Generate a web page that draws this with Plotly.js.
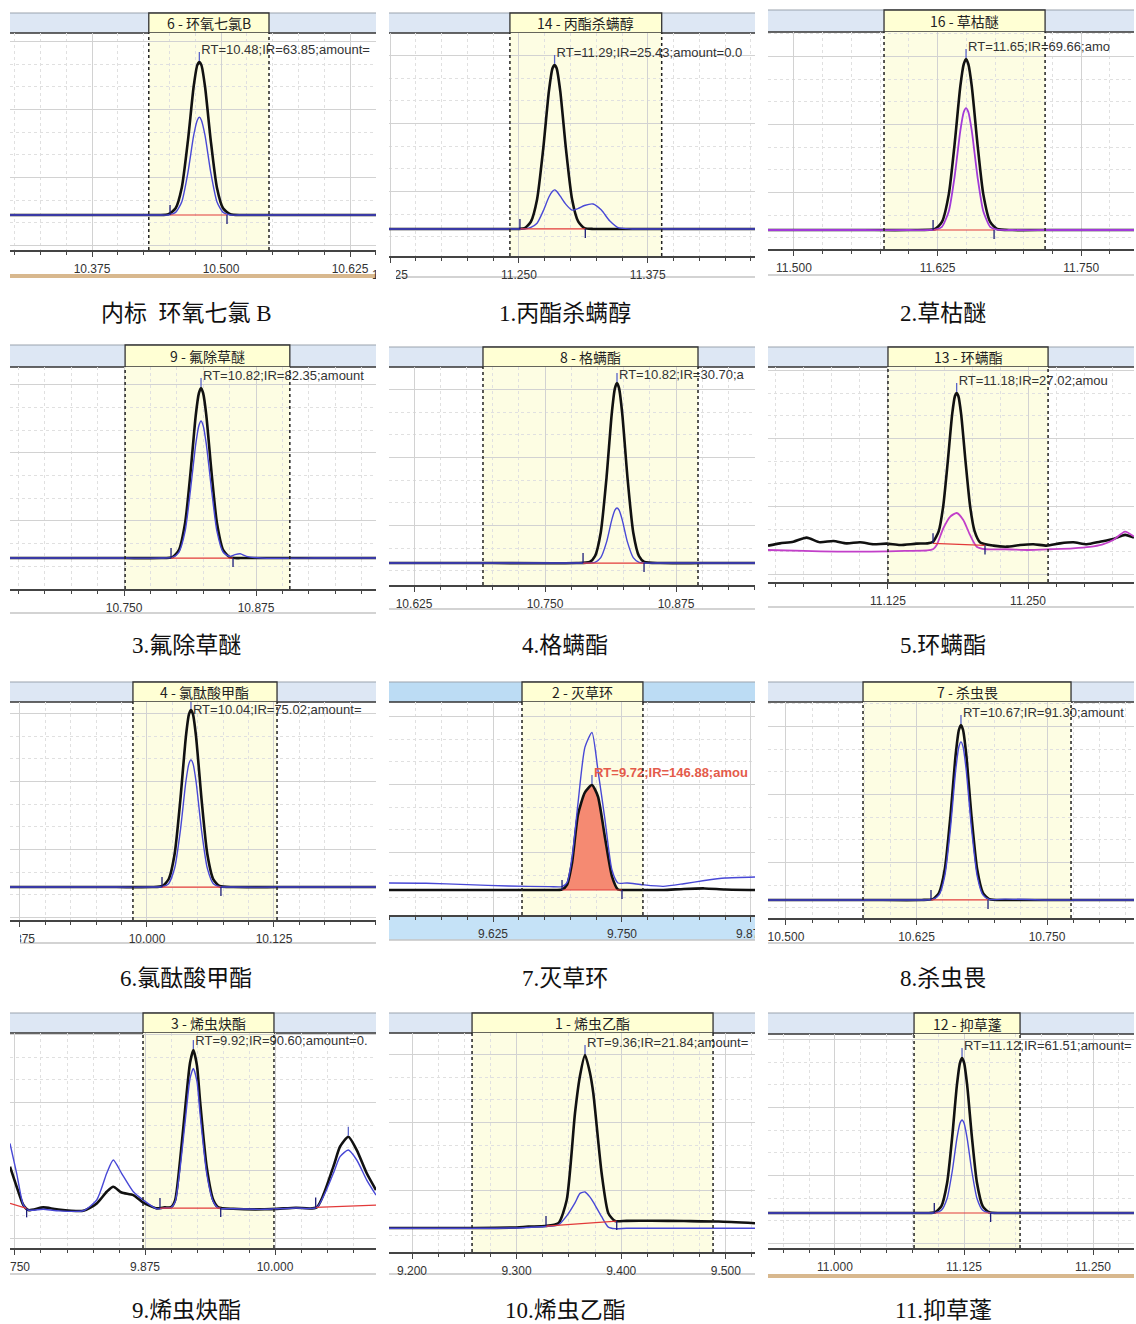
<!DOCTYPE html>
<html>
<head>
<meta charset="utf-8">
<script src="https://cdn.plot.ly/plotly-3.0.1.min.js"></script>
<style>
html,body{margin:0;padding:0;background:#ffffff;}
#chart{width:1136px;height:1324px;}
</style>
</head>
<body>
<div id="chart"></div>
<script>
// ================= DATA =================
const compoundLabels = ['6 - 环氧七氯B','14 - 丙酯杀螨醇','16 - 草枯醚','9 - 氟除草醚','8 - 格螨酯','13 - 环螨酯','4 - 氯酞酸甲酯','2 - 灭草环','7 - 杀虫畏','3 - 烯虫炔酯','1 - 烯虫乙酯','12 - 抑草蓬'];
const captions = ['内标\u00a0\u00a0环氧七氯 B','1.丙酯杀螨醇','2.草枯醚','3.氟除草醚','4.格螨酯','5.环螨酯','6.氯酞酸甲酯','7.灭草环','8.杀虫畏','9.烯虫炔酯','10.烯虫乙酯','11.抑草蓬'];
const rtLabels = ['RT=10.48;IR=63.85;amount=','RT=11.29;IR=25.43;amount=0.0','RT=11.65;IR=69.66;amo','RT=10.82;IR=82.35;amount','RT=10.82;IR=30.70;a','RT=11.18;IR=27.02;amou','RT=10.04;IR=75.02;amount=','RT=9.72;IR=146.88;amou','RT=10.67;IR=91.30;amount','RT=9.92;IR=90.60;amount=0.','RT=9.36;IR=21.84;amount=','RT=11.12;IR=61.51;amount='];

// integration window (dashed lines) in minutes
const windowStart = [10.430, 11.2413, 11.5784, 10.751, 10.6908, 11.125, 9.9862, 9.6531, 10.5738, 9.8731, 9.2574, 11.0766];
const windowEnd   = [10.5465, 11.3885, 11.7186, 10.907, 10.896, 11.2679, 10.128, 9.7703, 10.773, 9.999, 9.4878, 11.1793];
// peak start / end / apex markers
const peakStart    = [10.4506, 11.251, 11.6211, 10.7945, 10.7863, 11.1652, 10.0148, 9.6919, 10.6389, 9.8894, 9.3281, 11.0962];
const peakStartVal = [0, 0, 0, 0, 0, 0.4, 0, 0, 0, 0, 1.1, 0];
const peakEnd      = [10.5058, 11.3144, 11.6742, 10.8532, 10.8445, 11.2116, 10.0728, 9.7500, 10.6935, 9.9478, 9.3957, 11.1508];
const peakEndVal   = [0, 0, 0, 0, 0, -1.0, 0, 0, 0, 0, 4.0, 0];
const apexTime     = [10.479, 11.2846, 11.6498, 10.8229, 10.8187, 11.1863, 10.0433, 9.7209, 10.6676, 9.9215, 9.3654, 11.1231];

// panel 1: 环氧七氯B
const p1Time  = [10.2955, 10.35, 10.40, 10.44, 10.449, 10.456, 10.462, 10.468, 10.4735, 10.477, 10.479, 10.481, 10.4845, 10.490, 10.496, 10.502, 10.509, 10.52, 10.56, 10.60, 10.6502];
const p1Black = [0, 0, 0, 0, 0.5, 4.4, 18, 49, 84, 98, 100, 98, 84, 49, 18, 4.4, 0.5, 0, 0, 0, 0];
const p1Blue  = [0, 0, 0, 0, 0, 1.7, 8.7, 28, 52, 62, 64, 62, 52, 28, 8.7, 1.7, 0, 0, 0, 0, 0];
// panel 2: 丙酯杀螨醇
const p2Time  = [11.124, 11.18, 11.22, 11.25, 11.2556, 11.2616, 11.2676, 11.2736, 11.2791, 11.2826, 11.2846, 11.2866, 11.2901, 11.2956, 11.3016, 11.3076, 11.3136, 11.322, 11.330, 11.338, 11.347, 11.36, 11.40, 11.44, 11.479];
const p2Black = [0, 0, 0, 0, 0.5, 4.4, 18, 49, 84, 98, 100, 98, 84, 49, 18, 4.4, 0.5, 0, 0, 0, 0, 0, 0, 0, 0];
const p2Blue  = [0, 0, 0, 0, 0, 1, 3.5, 11, 19.5, 23, 23.8, 23, 20, 15, 11.5, 12.5, 14.3, 15.2, 11.5, 5, 0.6, 0, 0, 0, 0];
// panel 3: 草枯醚
const p3Time   = [11.4774, 11.52, 11.56, 11.60, 11.6228, 11.6288, 11.6348, 11.6398, 11.6448, 11.6478, 11.6498, 11.6518, 11.6548, 11.6598, 11.6648, 11.6708, 11.6768, 11.69, 11.72, 11.76, 11.796];
const p3Black  = [0, 0, 0, 0, 0.6, 4.7, 21, 50, 84, 97, 100, 97, 84, 50, 21, 4.7, 0.6, 0, 0, 0, 0];
const p3Purple = [0, 0, 0, 0, 0.2, 1.9, 11, 31, 58, 69, 71.3, 69, 58, 31, 11, 1.9, 0.2, 0, 0, 0, 0];
// panel 4: 氟除草醚
const p4Time  = [10.642, 10.70, 10.75, 10.785, 10.7959, 10.8019, 10.8079, 10.8129, 10.8179, 10.8209, 10.8229, 10.8249, 10.8279, 10.8329, 10.8379, 10.8439, 10.8499, 10.855, 10.860, 10.866, 10.88, 10.93, 10.9886];
const p4Black = [0, 0, 0, 0, 0.6, 4.7, 21, 50, 84, 97, 100, 97, 84, 50, 21, 4.7, 0.6, 0, 0, 0, 0, 0, 0];
const p4Blue  = [0, 0, 0, 0, 0.4, 3.4, 16, 40, 67, 78, 80.6, 78, 67, 40, 16, 3.4, 1, 2, 2.5, 1, 0, 0, 0];
// panel 5: 格螨酯
const p5Time  = [10.6011, 10.65, 10.70, 10.78, 10.7927, 10.7977, 10.8032, 10.8087, 10.8137, 10.8167, 10.8187, 10.8207, 10.8237, 10.8287, 10.8342, 10.8397, 10.8447, 10.86, 10.90, 10.9504];
const p5Black = [0, 0, 0, 0, 0.6, 3.8, 17, 47.5, 83, 97, 100, 97, 83, 47.5, 17, 3.8, 0.6, 0, 0, 0];
const p5Blue  = [0, 0, 0, 0, 0, 0.4, 3, 11.6, 24, 29.4, 30.6, 29.4, 24, 11.6, 3, 0.4, 0, 0, 0, 0];
// panel 6: 环螨酯
const p6BlackTime = [11.0179, 11.0286, 11.0405, 11.0524, 11.0643, 11.0762, 11.0881, 11.1000, 11.1119, 11.1238, 11.1357, 11.1506, 11.1603, 11.1653, 11.1703, 11.1743, 11.1783, 11.1823, 11.1848, 11.1863, 11.1878, 11.1903, 11.1943, 11.1983, 11.2023, 11.2073, 11.2191, 11.2310, 11.2429, 11.2548, 11.2667, 11.2786, 11.2905, 11.3024, 11.3143, 11.3262, 11.3366, 11.3446];
const p6Black     = [-1.1, 0.4, 1.5, 4.2, 1.1, 2.0, 0.4, 1.1, -0.2, 0.2, -0.7, 0.2, 0.4, 1.5, 8.5, 25, 54, 86, 98, 100, 98, 86, 54, 25, 8.5, 1, -1.1, -1.8, -0.7, -0.2, -1.1, 0.4, 1.1, -0.2, 1.5, 3.3, 6.0, 4.2];
const p6MagentaTime = [11.0179, 11.05, 11.08, 11.11, 11.14, 11.16, 11.1655, 11.1685, 11.1744, 11.1804, 11.1863, 11.1922, 11.1982, 11.2042, 11.212, 11.23, 11.25, 11.27, 11.29, 11.305, 11.316, 11.326, 11.3366, 11.3446];
const p6Magenta     = [-4, -4.6, -5.1, -5.1, -4.6, -4.3, -3.3, -0.7, 10.4, 18, 20.5, 15.9, 6, -1.8, -3.5, -3.5, -4, -3.5, -2.9, -2, -0.5, 2.6, 8.2, 4.9];
// panel 7: 氯酞酸甲酯
const p7Time  = [9.8652, 9.92, 9.97, 10.005, 10.0153, 10.0213, 10.0273, 10.0328, 10.0383, 10.0413, 10.0433, 10.0453, 10.0483, 10.0538, 10.0593, 10.0653, 10.0713, 10.085, 10.13, 10.18, 10.2254];
const p7Black = [0, 0, 0, 0, 0.6, 4.4, 19, 49, 85, 97.5, 100, 97.5, 85, 49, 19, 4.4, 0.6, 0, 0, 0, 0];
const p7Blue  = [0, 0, 0, 0, 0.2, 1.9, 10.8, 31.6, 59.6, 69.7, 71.8, 69.7, 59.6, 31.6, 10.8, 1.9, 0.2, 0, 0, 0, 0];
// panel 8: 灭草环 (quantified trace is filled)
const p8Time  = [9.5242, 9.56, 9.60, 9.64, 9.68, 9.6919, 9.6967, 9.7016, 9.7074, 9.7141, 9.7209, 9.7267, 9.7335, 9.7403, 9.7461, 9.755, 9.77, 9.79, 9.81, 9.83, 9.85, 9.8789];
const p8Black = [0, 0, 0, 0, 0, 0.5, 5, 26, 72, 93, 100, 89, 50, 13, 0.5, 0, 0, 0, 1, 1.5, 0.5, 0];
const p8Blue  = [6.7, 6.5, 5.1, 3.8, 3.2, 3.2, 7, 31, 83, 136, 150, 114, 67, 19, 6.7, 6.7, 5, 3.5, 6, 9, 11.4, 12.4];
// panel 9: 杀虫畏
const p9Time  = [10.4828, 10.53, 10.58, 10.63, 10.6406, 10.6466, 10.6521, 10.6576, 10.6626, 10.6656, 10.6676, 10.6696, 10.6726, 10.6776, 10.6831, 10.6886, 10.6946, 10.71, 10.75, 10.79, 10.8333];
const p9Black = [0, 0, 0, 0, 0.5, 4.1, 17.5, 48.4, 83.4, 97.1, 100, 97.1, 83.4, 48.4, 17.5, 4.1, 0.5, 0, 0, 0, 0];
const p9Blue  = [0, 0, 0, 0, 0.3, 2.9, 13.8, 41.4, 74.3, 87.5, 90.3, 87.5, 74.3, 41.4, 13.8, 2.9, 0.3, 0.5, 0, 0, 0];
// panel 10: 烯虫炔酯
const p10Time  = [9.7452, 9.7516, 9.7580, 9.7628, 9.7772, 9.7901, 9.8157, 9.8286, 9.8382, 9.8445, 9.8525, 9.8638, 9.8734, 9.8862, 9.8940, 9.9000, 9.9040, 9.9087, 9.9135, 9.9183, 9.9215, 9.9250, 9.9279, 9.9343, 9.9407, 9.9455, 9.9600, 9.9900, 10.0200, 10.0401, 10.0561, 10.0625, 10.0705, 10.0786, 10.0882, 10.0971];
const p10Black = [26.2, 13.5, 1.9, -1.3, 0.4, -0.8, -1.7, 2.9, 10.3, 13.5, 9.8, 8.2, 3.4, -0.2, 0.4, 0.5, 5, 30, 62, 92, 100, 90, 68, 26, 5, 0.4, -0.5, -0.8, 0.2, 0.4, 26.2, 38.8, 45.1, 36.7, 22, 11.4];
const p10Blue  = [40.9, 22, 2, -1.3, -0.8, -1.7, -1.7, 5.1, 22, 30.4, 22, 10.3, 5, -0.5, 0, 0.3, 4, 25, 54, 82, 88.4, 80, 60, 22, 4, 0, -0.5, -0.8, 0, 0.4, 22, 32.5, 36.7, 30.4, 17.7, 8.2];
const p10ExtraRedTime = [9.7452, 9.7612, null, 10.0391, 10.0971];
const p10ExtraRedVal  = [2.9, -0.2, null, 0.4, 1.9];
const p10ExtraUpTime = [10.0391], p10ExtraUpVal = [0.4];
const p10ExtraDownTime = [9.7612], p10ExtraDownVal = [-0.2];
const p10ExtraApexTime = [10.0705], p10ExtraApexVal = [45.1];
// panel 11: 烯虫乙酯
const p11Time  = [9.178, 9.22, 9.26, 9.30, 9.3112, 9.3272, 9.3399, 9.3479, 9.3558, 9.3606, 9.3654, 9.3700, 9.3733, 9.3813, 9.3877, 9.3941, 9.4050, 9.4291, 9.4600, 9.4929, 9.5279];
const p11Black = [0, 0, 0, 0.3, 0.8, 1.1, 2.7, 16.2, 66.3, 88, 100, 90, 77.9, 31.6, 8.5, 4.0, 4.1, 4.2, 4.0, 3.7, 2.7];
const p11Blue  = [-0.2, -0.2, -0.2, 0, 0.3, 0.8, 1.8, 7, 14.5, 20, 20.8, 18, 15, 6.5, 0.5, -0.4, -0.2, -0.2, -0.2, -0.2, -0.2];
// panel 12: 抑草蓬
const p12Time  = [10.9351, 11.00, 11.06, 11.09, 11.0971, 11.1031, 11.1086, 11.1136, 11.1181, 11.1211, 11.1231, 11.1251, 11.1281, 11.1326, 11.1376, 11.1431, 11.1491, 11.16, 11.20, 11.25, 11.2897];
const p12Black = [0, 0, 0, 0, 0.5, 4.4, 19.3, 49.4, 82.3, 96.9, 100, 96.9, 82.3, 49.4, 19.3, 4.4, 0.5, 0, 0, 0, 0];
const p12Blue  = [0, 0, 0, 0, 0.15, 1.7, 9.3, 26.9, 48, 57.9, 60, 57.9, 48, 26.9, 9.3, 1.7, 0.15, 0, 0, 0, 0];

// ================= AXES / LAYOUT GEOMETRY =================
const xRanges = [[10.2955,10.6502],[11.124,11.479],[11.4774,11.796],[10.642,10.9886],[10.6011,10.9504],[11.0179,11.3446],[9.8652,10.2254],[9.5242,9.8789],[10.4828,10.8333],[9.7452,10.0971],[9.178,9.5279],[10.9351,11.2897]];
const yRanges = [[-22.9,119.0],[-16.5,119.5],[-11.1,115.8],[-18.2,112.4],[-12.2,108.9],[-25.2,117.2],[-18.6,104.5],[-23.8,179],[-10.3,113.1],[-25.3,110.8],[-13.9,112.7],[-22.6,115.5]];
const xDtick = [0.125,0.125,0.125,0.125,0.125,0.125,0.125,0.125,0.125,0.125,0.1,0.125];
const xTick0 = [10,10,10,10,10,10,10,10,10,10,9.2,10];

const W = 1136, H = 1324;
const colL = [10, 389, 768], colR = [376, 755, 1134];
const headTop  = [13,13,10,345,347,347,682,682,682,1013,1013,1013];
const headBot  = [33,33,32,367,367,367,702,702,702,1033,1033,1034];
const axisY    = [250,256,249,589,585,582,920,915,918,1248,1252,1248];
const panelBot = [276,277,275,613,609,607,943,940,943,1274,1274,1276];
const captionRowY = [313,645,978,1310];
const captionX = [186,565,943];

const timeSets   = [p1Time,p2Time,p3Time,p4Time,p5Time,p6BlackTime,p7Time,p8Time,p9Time,p10Time,p11Time,p12Time];
const blackSets  = [p1Black,p2Black,p3Black,p4Black,p5Black,p6Black,p7Black,p8Black,p9Black,p10Black,p11Black,p12Black];
const secondTime = [p1Time,p2Time,p3Time,p4Time,p5Time,p6MagentaTime,p7Time,p8Time,p9Time,p10Time,p11Time,p12Time];
const secondSets = [p1Blue,p2Blue,p3Purple,p4Blue,p5Blue,p6Magenta,p7Blue,p8Blue,p9Blue,p10Blue,p11Blue,p12Blue];
const BLUE = '#4848d6';
const secondColor = [BLUE,BLUE,'#a23ad8',BLUE,BLUE,'#c23fc9',BLUE,BLUE,BLUE,BLUE,BLUE,BLUE];

const px = v => v / W;
const py = v => 1 - v / H;
const SANS = 'Liberation Sans, Arial, sans-serif';
const CJK = 'Noto Sans CJK SC, sans-serif';

const layout = {
  width: W, height: H,
  margin: {l:0, r:0, t:0, b:0},
  paper_bgcolor: '#ffffff', plot_bgcolor: '#ffffff',
  showlegend: false,
  font: {family: SANS, color: '#333'},
  shapes: [], annotations: []
};
const traces = [];

for (let i = 0; i < 12; i++) {
  const s = i === 0 ? '' : String(i + 1);
  const xa = 'x' + s, ya = 'y' + s;
  const col = i % 3, row = Math.floor(i / 3);
  const L = colL[col], R = colR[col];
  const plotH = axisY[i] - headBot[i];
  const upp = (yRanges[i][1] - yRanges[i][0]) / plotH;
  const tpp = (xRanges[i][1] - xRanges[i][0]) / (R - L);
  const ydt = upp * 68;

  layout['xaxis' + s] = {
    domain: [px(L), px(R)], range: xRanges[i], anchor: ya,
    showline: true, linecolor: '#444', linewidth: 2,
    ticks: 'outside', ticklen: 5, tickwidth: 1, tickcolor: '#444',
    dtick: xDtick[i], tick0: xTick0[i], tickformat: '.3f',
    tickfont: {size: 12, color: '#333', family: SANS}, ticklabelstandoff: 2,
    ticklabeloverflow: 'allow',
    showgrid: true, gridcolor: '#d2d2d2', gridwidth: 1, zeroline: false, fixedrange: true,
    minor: {dtick: 0.025, tick0: xTick0[i], ticks: 'outside', ticklen: 3, tickcolor: '#444',
            showgrid: true, gridcolor: '#e0e0e0', griddash: 'dot'}
  };
  layout['yaxis' + s] = {
    domain: [py(axisY[i]), py(headBot[i])], range: yRanges[i], anchor: xa,
    showline: false, ticks: '', showticklabels: false, zeroline: false, fixedrange: true,
    showgrid: true, gridcolor: '#d2d2d2', dtick: ydt, tick0: ydt * 0.55,
    minor: {dtick: ydt / 3, tick0: ydt * 0.55, showgrid: true, gridcolor: '#e0e0e0', griddash: 'dot'}
  };

  // header band
  const headFill = (i === 7) ? '#bcdcf4' : '#dde7f4';
  layout.shapes.push({type:'rect', xref:'paper', yref:'paper', x0:px(L), x1:px(R), y0:py(headBot[i]), y1:py(headTop[i]),
    fillcolor: headFill, line:{width:0}, layer:'below'});
  layout.shapes.push({type:'line', xref:'paper', yref:'paper', x0:px(L), x1:px(R), y0:py(headTop[i]), y1:py(headTop[i]),
    line:{color:'#9aa3ad', width:1}, layer:'below'});
  layout.shapes.push({type:'line', xref:'paper', yref:'paper', x0:px(L), x1:px(R), y0:py(headBot[i]), y1:py(headBot[i]),
    line:{color:'#333', width:1.5}, layer:'below'});
  // label box (spans integration window)
  layout.shapes.push({type:'rect', xref:xa, yref:'paper', x0:windowStart[i], x1:windowEnd[i], y0:py(headBot[i]), y1:py(headTop[i]),
    fillcolor:'#ffffd4', line:{color:'#333', width:1.3}, layer:'below'});
  layout.annotations.push({xref:xa, yref:'paper', x:(windowStart[i]+windowEnd[i])/2, y:py((headTop[i]+headBot[i])/2),
    text: compoundLabels[i], showarrow:false, xanchor:'center', yanchor:'middle',
    font:{family:CJK, size:14, color:'#222'}});
  // integration window shading + dashed limits
  layout.shapes.push({type:'rect', xref:xa, yref:ya + ' domain', x0:windowStart[i], x1:windowEnd[i], y0:0, y1:1,
    fillcolor:'#fdfde3', line:{width:0}, layer:'below'});
  [windowStart[i], windowEnd[i]].forEach(t => {
    layout.shapes.push({type:'line', xref:xa, yref:ya + ' domain', x0:t, x1:t, y0:0, y1:1,
      line:{color:'#222', width:1.5, dash:'3px,3px'}, layer:'above'});
  });
  // axis area decorations
  if (i === 7) {
    layout.shapes.push({type:'rect', xref:'paper', yref:'paper', x0:px(L), x1:px(R), y0:py(panelBot[i]), y1:py(axisY[i]),
      fillcolor:'#c5e2f7', line:{width:0}, layer:'below'});
  }
  if (i === 0 || i === 11) {
    layout.shapes.push({type:'rect', xref:'paper', yref:'paper', x0:px(L), x1:px(R), y0:py(panelBot[i]+2), y1:py(panelBot[i]-2),
      fillcolor:'#d8b88e', line:{width:0}, layer:'below'});
  } else {
    layout.shapes.push({type:'line', xref:'paper', yref:'paper', x0:px(L), x1:px(R), y0:py(panelBot[i]), y1:py(panelBot[i]),
      line:{color:'#c4c4c4', width:1.5}, layer:'below'});
  }
  // caption
  layout.annotations.push({xref:'paper', yref:'paper', x:px(captionX[col]), y:py(captionRowY[row]),
    text: captions[i], showarrow:false, xanchor:'center', yanchor:'middle',
    font:{family:'Liberation Serif, Noto Sans CJK SC, serif', size:23, color:'#111'}});

  // ---- traces ----
  const tArr = timeSets[i], bArr = blackSets[i];
  if (i === 7) {
    const ft = [], fv = [];
    tArr.forEach((t, k) => { if (t >= peakStart[i] - 1e-9 && t <= peakEnd[i] + 0.0001) { ft.push(t); fv.push(bArr[k]); } });
    traces.push({type:'scatter', mode:'lines', x:ft, y:fv, xaxis:xa, yaxis:ya, fill:'tozeroy',
      fillcolor:'#f58a72', line:{width:0, shape:'spline', smoothing:0.6}, hoverinfo:'skip'});
  }
  traces.push({type:'scatter', mode:'lines', x:tArr, y:bArr, xaxis:xa, yaxis:ya,
    line:{color:'#111', width:2.6, shape:'spline', smoothing:0.6}, hoverinfo:'skip'});
  traces.push({type:'scatter', mode:'lines', x:secondTime[i], y:secondSets[i], xaxis:xa, yaxis:ya,
    line:{color:secondColor[i], width:(i===2||i===5)?1.8:1.4, shape:'spline', smoothing:0.6}, hoverinfo:'skip'});

  // red integration baseline
  let rx = [peakStart[i], peakEnd[i]], ry = [peakStartVal[i], peakEndVal[i]];
  if (i === 9) { rx = rx.concat([null], p10ExtraRedTime); ry = ry.concat([null], p10ExtraRedVal); }
  traces.push({type:'scatter', mode:'lines', x:rx, y:ry, xaxis:xa, yaxis:ya,
    line:{color:'#e23a3a', width:1.2}, hoverinfo:'skip'});

  // start / end markers
  let ups = [[peakStart[i], peakStartVal[i]]], downs = [[peakEnd[i], peakEndVal[i]]];
  const apexVal = Math.max.apply(null, bArr.filter((v, k) => tArr[k] >= windowStart[i] && tArr[k] <= windowEnd[i]));
  let apexes = [[apexTime[i], apexVal]];
  if (i === 9) {
    ups.push([p10ExtraUpTime[0], p10ExtraUpVal[0]]);
    downs.push([p10ExtraDownTime[0], p10ExtraDownVal[0]]);
    apexes.push([p10ExtraApexTime[0], p10ExtraApexVal[0]]);
  }
  const mx = [], my = [];
  ups.forEach(p => { mx.push(p[0], p[0], null); my.push(p[1], p[1] + 10 * upp, null); });
  downs.forEach(p => { mx.push(p[0], p[0], null); my.push(p[1], p[1] - 9 * upp, null); });
  traces.push({type:'scatter', mode:'lines', x:mx, y:my, xaxis:xa, yaxis:ya,
    line:{color:'#1c1c78', width:1.3}, hoverinfo:'skip'});
  const ax = [], ay = [];
  apexes.forEach(p => { ax.push(p[0], p[0], null); ay.push(p[1] + 1 * upp, p[1] + 10 * upp, null); });
  traces.push({type:'scatter', mode:'lines', x:ax, y:ay, xaxis:xa, yaxis:ya,
    line:{color:'#5a64c8', width:1.3}, hoverinfo:'skip'});

  // RT label (clipped at the plot edge like the original)
  const isRed = (i === 7);
  const textY = Math.min(apexVal + 11 * upp, yRanges[i][1] - 9 * upp);
  traces.push({type:'scatter', mode:'text', x:[apexTime[i] + 2 * tpp], y:[textY], text:[rtLabels[i]],
    textposition:'middle right', cliponaxis:true, xaxis:xa, yaxis:ya, hoverinfo:'skip',
    textfont:{family:SANS, size:13, color: isRed ? '#e45b4b' : '#333', weight: isRed ? 'bold' : 'normal'}});
}

// white covers in the gaps between panels (clip the edge tick labels)
const rowLabelBand = [[254, 280], [590, 616], [922, 946], [1252, 1280]];
rowLabelBand.forEach(b => {
  [[0, 10], [376, 389], [755, 768], [1134, 1136]].forEach(g => {
    layout.shapes.push({type:'rect', xref:'paper', yref:'paper', x0:px(g[0]), x1:px(g[1]), y0:py(b[1]), y1:py(b[0]),
      fillcolor:'#ffffff', line:{width:0}, layer:'above'});
  });
});
// partly hidden first tick labels (only their tails show in the reference)
layout.shapes.push({type:'rect', xref:'paper', yref:'paper', x0:px(389), x1:px(396), y0:py(282), y1:py(263),
  fillcolor:'#ffffff', line:{width:0}, layer:'above'});
layout.shapes.push({type:'rect', xref:'paper', yref:'paper', x0:px(10), x1:px(20), y0:py(946), y1:py(927),
  fillcolor:'#ffffff', line:{width:0}, layer:'above'});

Plotly.newPlot('chart', traces, layout, {staticPlot:true, displayModeBar:false});
</script>
</body>
</html>
